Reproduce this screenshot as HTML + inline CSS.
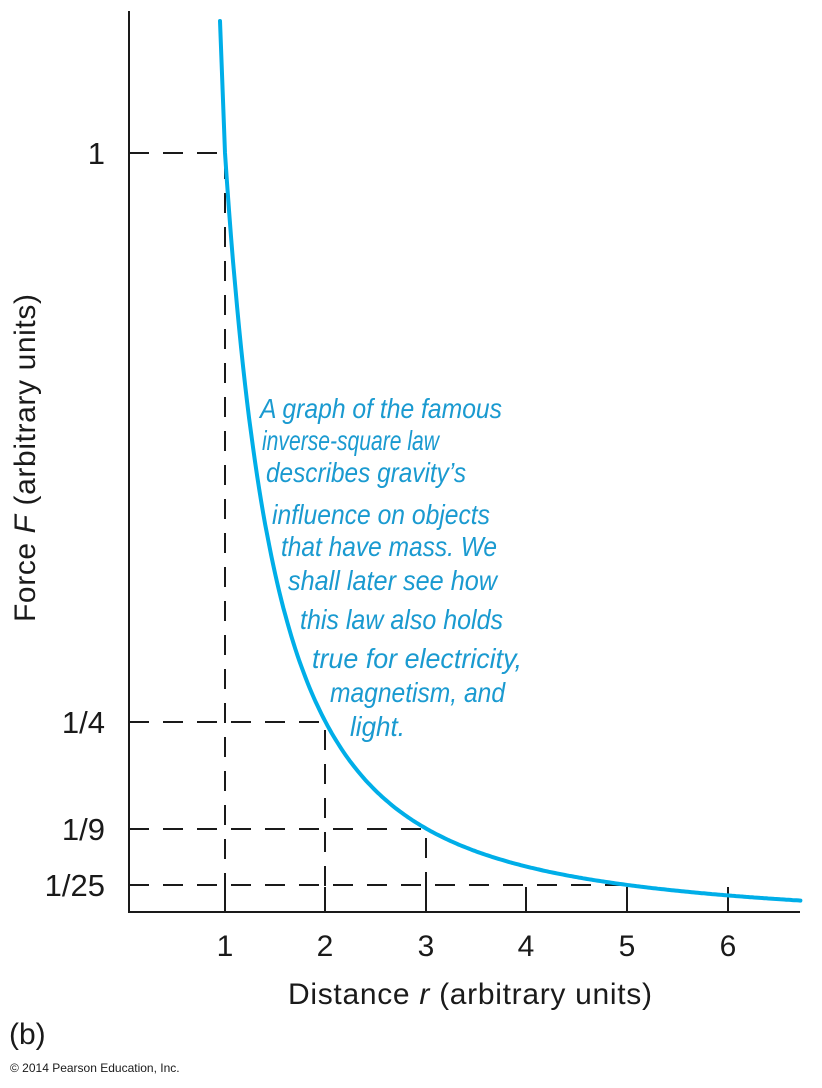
<!DOCTYPE html>
<html><head><style>body{margin:0;background:#fff}svg{display:block}</style></head><body>
<svg width="822" height="1088" xmlns="http://www.w3.org/2000/svg" font-family="Liberation Sans, sans-serif">
<g stroke="#1a1a1a" stroke-width="2" fill="none">
<path d="M129,11 V912 H800"/>
<g stroke-dasharray="20 14">
<path d="M129,153 H225 V912"/>
<path d="M129,722 H325 V912"/>
<path d="M129,829 H426 V912"/>
<path d="M129,885 H627"/>
</g>
<path d="M225,887V912M325,887V912M426,887V912M526,887V912M627,887V912M728,887V912"/>
</g>
<polyline id="c" fill="none" stroke="#00aee8" stroke-width="4" stroke-linecap="round" points=""/>
<g font-size="31" fill="#1a1a1a" text-anchor="end">
<text x="105" y="164">1</text>
<text x="105" y="733">1/4</text>
<text x="105" y="840">1/9</text>
<text x="105" y="896">1/25</text>
</g>
<g font-size="30" fill="#1a1a1a" text-anchor="middle">
<text x="225" y="956">1</text><text x="325" y="956">2</text><text x="426" y="956">3</text>
<text x="526" y="956">4</text><text x="627" y="956">5</text><text x="728" y="956">6</text>
<text x="470" y="1004" textLength="364">Distance <tspan font-style="italic">r</tspan> (arbitrary units)</text>
<text transform="translate(35,458) rotate(-90)" textLength="328">Force <tspan font-style="italic">F</tspan> (arbitrary units)</text>
</g>
<text x="9" y="1044" font-size="30" fill="#1a1a1a">(b)</text>
<text x="10" y="1072" font-size="12" fill="#1a1a1a">© 2014 Pearson Education, Inc.</text>
<g font-size="28" font-style="italic" fill="#1a9ad0">
<text x="260" y="418" textLength="242" lengthAdjust="spacingAndGlyphs">A graph of the famous</text>
<text x="262" y="450" textLength="177" lengthAdjust="spacingAndGlyphs">inverse-square law</text>
<text x="266" y="482" textLength="200" lengthAdjust="spacingAndGlyphs">describes gravity’s</text>
<text x="272" y="524" textLength="218" lengthAdjust="spacingAndGlyphs">influence on objects</text>
<text x="281" y="556" textLength="216" lengthAdjust="spacingAndGlyphs">that have mass. We</text>
<text x="288" y="590" textLength="209" lengthAdjust="spacingAndGlyphs">shall later see how</text>
<text x="300" y="629" textLength="203" lengthAdjust="spacingAndGlyphs">this law also holds</text>
<text x="312" y="668" textLength="210" lengthAdjust="spacingAndGlyphs">true for electricity,</text>
<text x="330" y="702" textLength="175" lengthAdjust="spacingAndGlyphs">magnetism, and</text>
<text x="350" y="736" textLength="55" lengthAdjust="spacingAndGlyphs">light.</text>
</g>
</svg>
<script>
var p=["220,21"];
for(var r=1;r<=6.72;r+=0.02){var x=124.4+100.6*r,y=911.7-758.7/(r*r)+Math.max(0,(r-2))*1.2;p.push(x.toFixed(1)+","+y.toFixed(1));}
document.getElementById("c").setAttribute("points",p.join(" "));
</script>
</body></html>
